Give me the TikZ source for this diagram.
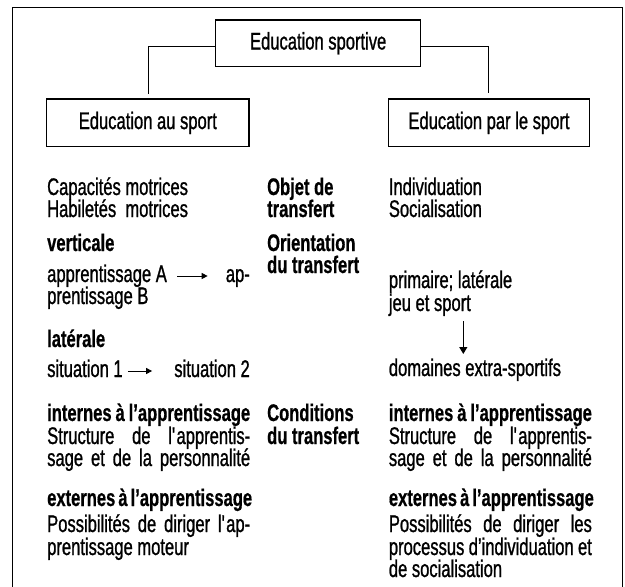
\documentclass[tikz,border=0pt]{standalone}
\usepackage{fontspec}
\setmainfont{Liberation Sans}[FakeStretch=0.69,UprightFeatures={FakeBold=1},BoldFeatures={FakeBold=0.6}]
\usetikzlibrary{arrows.meta}
\newcommand\jus[1]{\makebox[203pt][s]{#1}}
\begin{document}
\begin{tikzpicture}[x=1pt,y=-1pt,
  txt/.style={anchor=base west,inner sep=0pt,font=\fontsize{24}{24}\selectfont},
  btxt/.style={anchor=base west,inner sep=0pt,font=\fontsize{24}{24}\selectfont\bfseries},
  rtxt/.style={anchor=base east,inner sep=0pt,font=\fontsize{24}{24}\selectfont},
  box/.style={draw,line width=1.2pt,inner sep=0pt,font=\fontsize{24}{24}\selectfont},
  frame/.style={line width=1.5pt},
  link/.style={line width=1.2pt},
  inarrow/.style={line width=1pt,-{Triangle[length=6pt,width=6pt]}},
  varrow/.style={line width=1.2pt,-{Triangle[length=7pt,width=8pt]}}
]
\useasboundingbox (0,0) rectangle (625,587);
\fill[white] (0,0) rectangle (625,587);
% outer frame (open at bottom)
\draw[frame] (12.5,595) -- (12.5,7.5) -- (622.7,7.5) -- (622.7,595);

% boxes
\node[box,minimum width=205pt,minimum height=46.7pt] (top) at (318.2,43.3) {Education sportive};
\node[box,minimum width=202.3pt,minimum height=47.7pt] (left) at (147.85,122.85) {Education au sport};
\node[box,minimum width=200.6pt,minimum height=47.7pt] (right) at (489,122.85) {Education par le sport};
\coordinate (cl) at (148.3,94);
\coordinate (cr) at (488.3,93);
\draw[link] ([yshift=-3.4pt]top.west) -| (cl);
\draw[link] ([yshift=-3.4pt]top.east) -| (cr);

% left column
\node[txt] (l1) at (47,195) {Capacités motrices};
\node[txt] (l2) at (47,217) {Habiletés\ \ motrices};
\node[btxt] (l3) at (47,251) {verticale};
\node[txt] (l4a) at (47,282) {apprentissage A};
\node[rtxt] (l4b) at (250,282) {ap-};
\draw[inarrow] ([xshift=10pt,yshift=6pt]l4a.base east) -- ([xshift=-18pt,yshift=6pt]l4b.base west);
\node[txt] (l5) at (47,304) {prentissage B};
\node[btxt] (l6) at (47,347) {latérale};
\node[txt] (l7a) at (47,377) {situation 1};
\node[rtxt] (l7b) at (250,377) {situation 2};
\draw[inarrow] ([xshift=5pt,yshift=6pt]l7a.base east) -- ([xshift=-22pt,yshift=6pt]l7b.base west);
\node[btxt] (l8) at (47,421) {\jus{internes à l’apprentissage}};
\node[txt] (l9) at (47,444) {\jus{Structure de l\textquotesingle apprentis-}};
\node[txt] (l10) at (47,466) {\jus{sage et de la personnalité}};
\node[btxt] (l11) at (47,506) {\jus{externes à l’apprentissage}};
\node[txt] (l12) at (47,532) {\jus{Possibilités de diriger l\textquotesingle ap-}};
\node[txt] (l13) at (47,555) {prentissage moteur};

% middle column
\node[btxt] (m1) at (267,195) {Objet de};
\node[btxt] (m2) at (267,217) {transfert};
\node[btxt] (m3) at (267,251) {Orientation};
\node[btxt] (m4) at (267,273) {du transfert};
\node[btxt] (m5) at (267,421) {Conditions};
\node[btxt] (m6) at (267,444) {du transfert};

% right column
\node[txt] (r1) at (388.7,195) {Individuation};
\node[txt] (r2) at (388.7,217) {Socialisation};
\node[txt] (r3) at (388.7,288) {primaire; latérale};
\node[txt] (r4) at (388.7,311) {jeu et sport};
\coordinate (va) at (463.3,321);
\coordinate (vb) at (463.3,354);
\draw[varrow] (va) -- (vb);
\node[txt] (r5) at (388.7,376) {domaines extra-sportifs};
\node[btxt] (r6) at (388.7,421) {\jus{internes à l’apprentissage}};
\node[txt] (r7) at (388.7,444) {\jus{Structure de l\textquotesingle apprentis-}};
\node[txt] (r8) at (388.7,466) {\jus{sage et de la personnalité}};
\node[btxt] (r9) at (388.7,506) {\jus{externes à l’apprentissage}};
\node[txt] (r10) at (388.7,532) {\jus{Possibilités de diriger les}};
\node[txt] (r11) at (388.7,555) {\jus{processus d’individuation et}};
\node[txt] (r12) at (388.7,577) {de socialisation};
\end{tikzpicture}
\end{document}
